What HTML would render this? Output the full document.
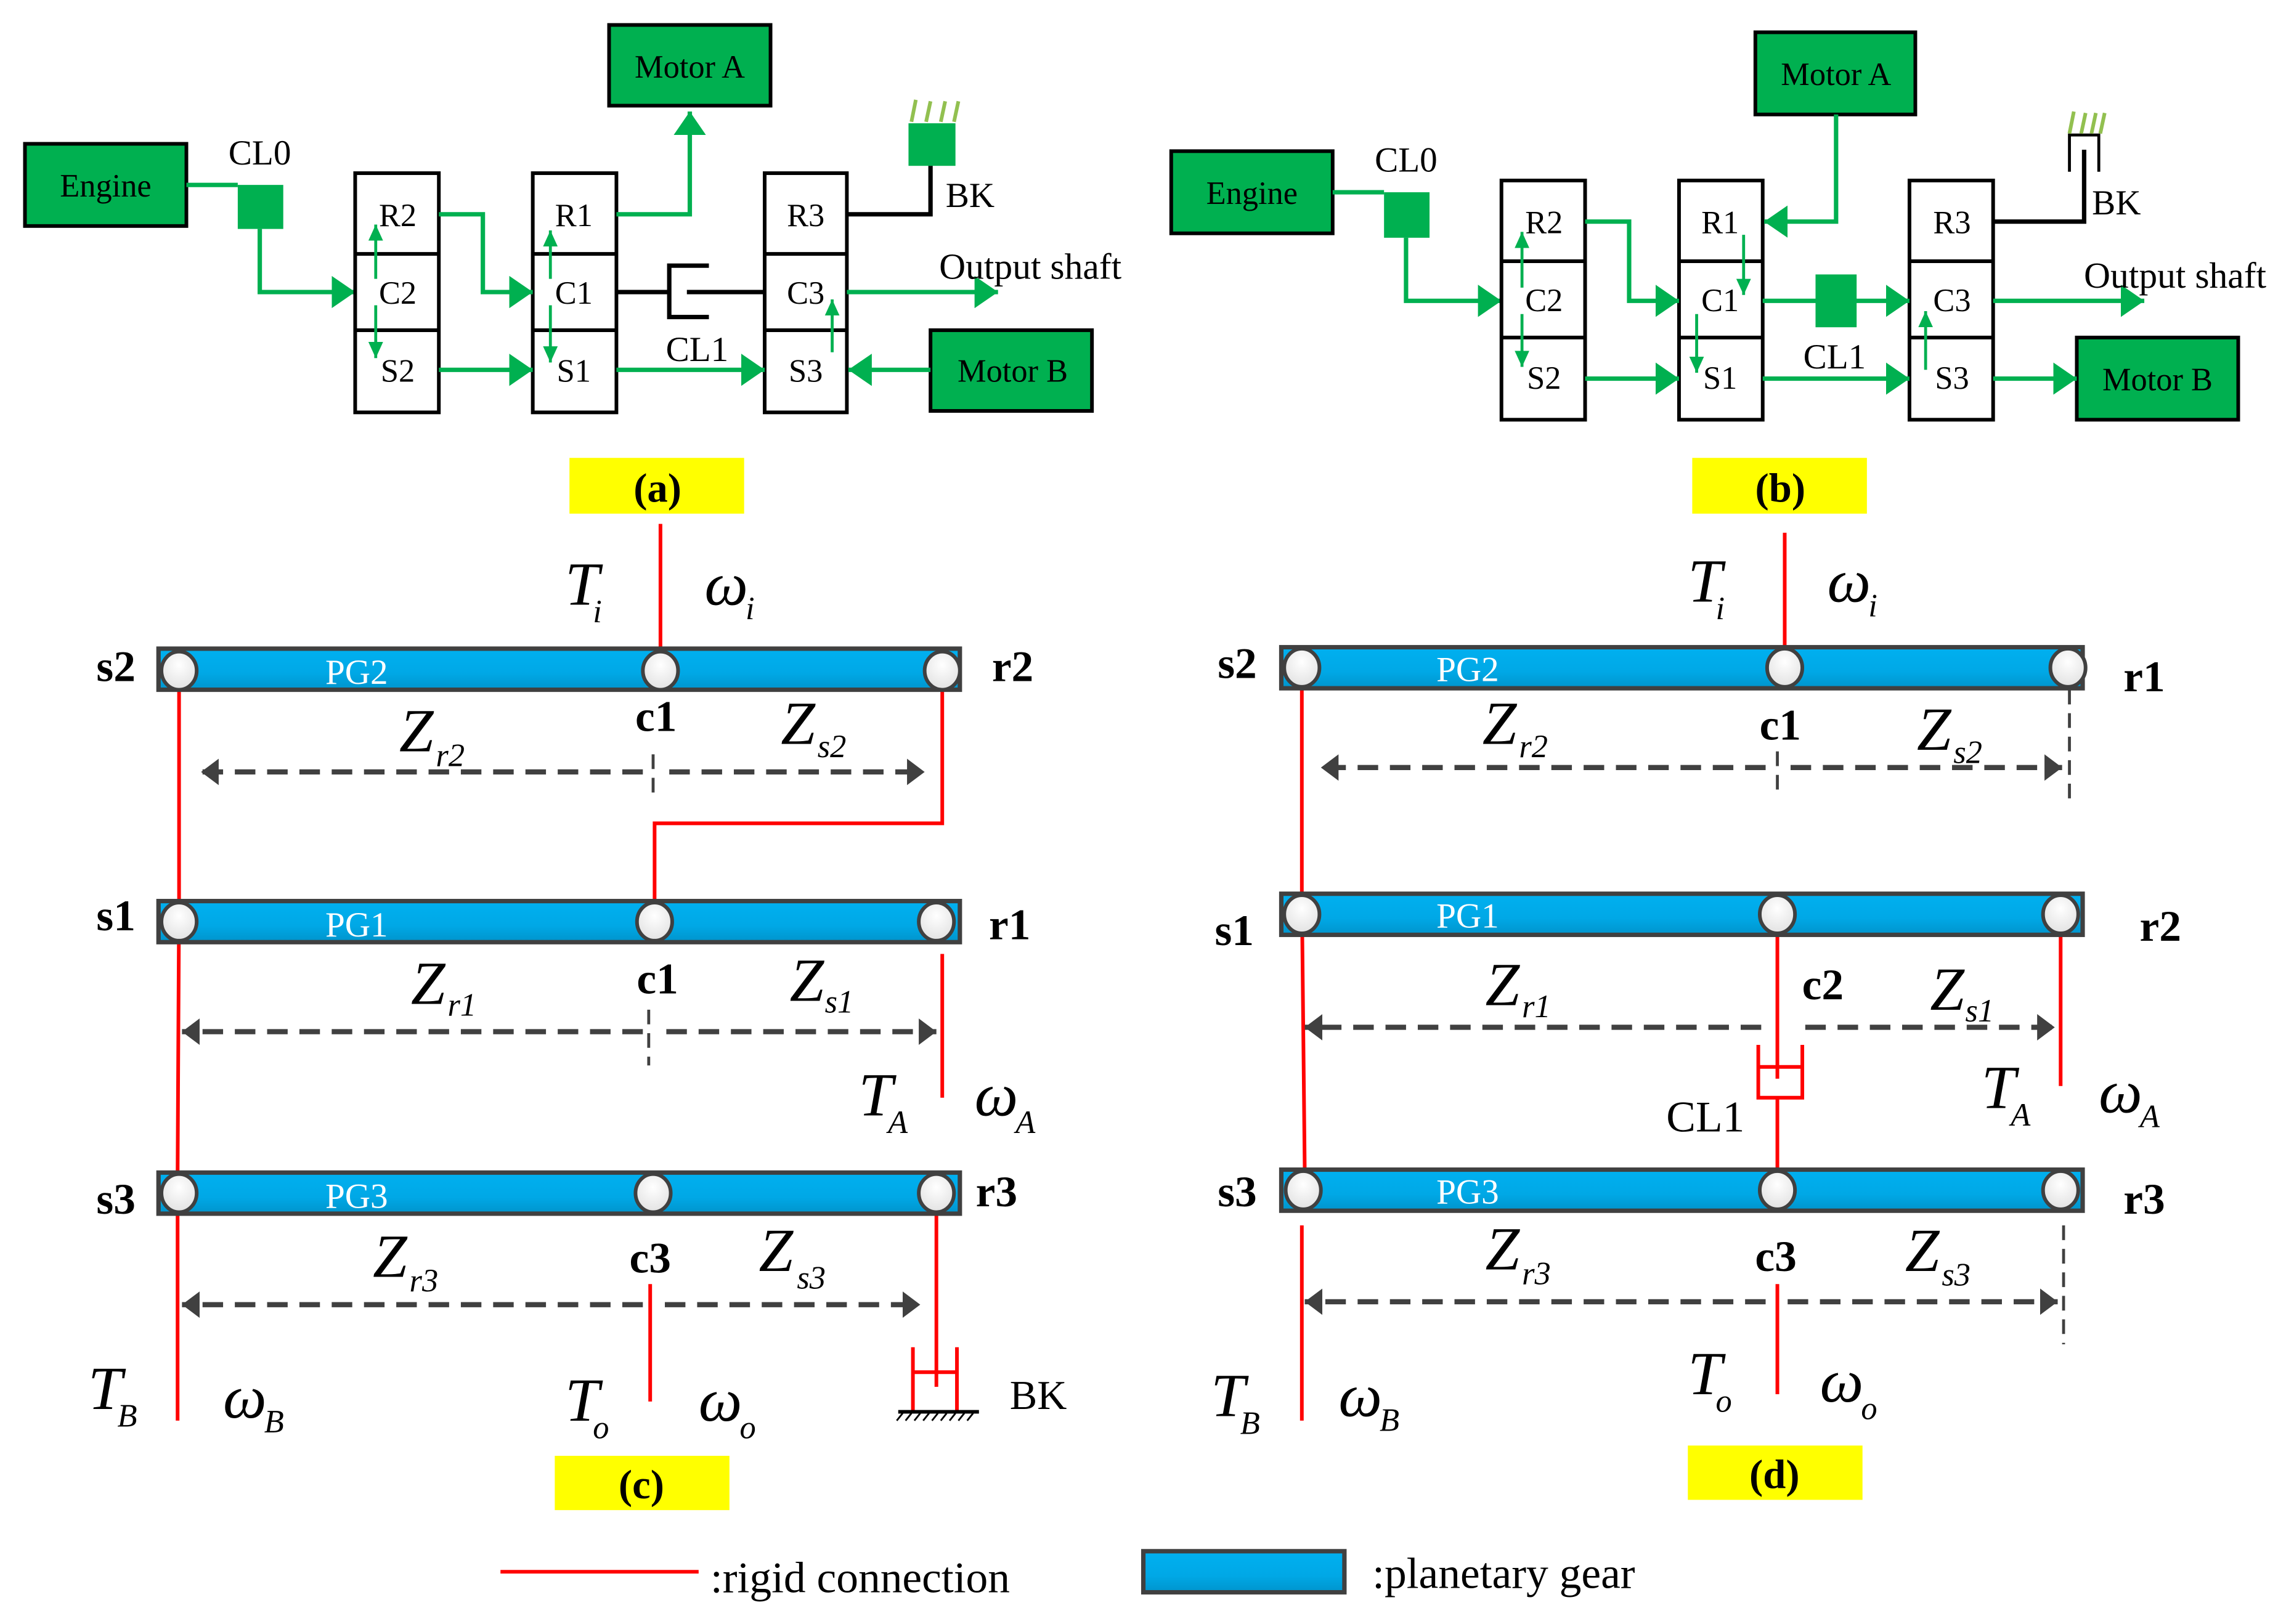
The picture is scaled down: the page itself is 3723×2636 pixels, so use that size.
<!DOCTYPE html>
<html><head><meta charset="utf-8"><style>html,body{margin:0;padding:0;background:#fff}svg{display:block}svg text{font-family:"Liberation Serif","Times New Roman",serif}</style></head>
<body>
<svg xmlns="http://www.w3.org/2000/svg" width="3723" height="2636" viewBox="0 0 1563 1106.6" preserveAspectRatio="none" style="font-family:'Liberation Serif',serif">
<defs>
<marker id="ga" markerUnits="userSpaceOnUse" markerWidth="18" markerHeight="22" refX="16" refY="11" orient="auto"><path d="M0,0 L16,11 L0,22 Z" fill="#00B050"/></marker>
<marker id="gs" markerUnits="userSpaceOnUse" markerWidth="12" markerHeight="12" refX="11" refY="5" orient="auto"><path d="M0,0 L11,5 L0,10 Z" fill="#00B050"/></marker>
<marker id="da" markerUnits="userSpaceOnUse" markerWidth="14" markerHeight="18" refX="12" refY="9" orient="auto"><path d="M0,0 L12,9 L0,18 Z" fill="#404040"/></marker>
<linearGradient id="bl" x1="0" y1="0" x2="0" y2="1"><stop offset="0" stop-color="#00B0F0"/><stop offset="0.6" stop-color="#00A8E6"/><stop offset="1" stop-color="#0094CC"/></linearGradient>
<radialGradient id="wc" cx="0.5" cy="0.35" r="0.7"><stop offset="0" stop-color="#fff"/><stop offset="1" stop-color="#e0e0e0"/></radialGradient>
</defs>

<!-- ========== (a) ========== -->
<g font-size="22" text-anchor="middle">
<rect x="17" y="98" width="110" height="56" fill="#00B050" stroke="#000" stroke-width="2.5"/>
<text x="72" y="134">Engine</text>
<text x="177" y="112" font-size="24">CL0</text>
<line x1="127" y1="126" x2="162" y2="126" stroke="#00B050" stroke-width="3"/>
<rect x="162" y="126" width="31" height="30" fill="#00B050"/>
<polyline points="177,156 177,199 242,199" fill="none" stroke="#00B050" stroke-width="3" marker-end="url(#ga)"/>
<rect x="415" y="17" width="110" height="55" fill="#00B050" stroke="#000" stroke-width="2.5"/>
<text x="470" y="53">Motor A</text>
<rect x="634" y="225" width="110" height="55" fill="#00B050" stroke="#000" stroke-width="2.5"/>
<text x="690" y="260">Motor B</text>
<g fill="#fff" stroke="#000" stroke-width="2.5">
<rect x="242" y="118" width="57" height="163"/><line x1="242" y1="173" x2="299" y2="173"/><line x1="242" y1="225" x2="299" y2="225"/>
<rect x="363" y="118" width="57" height="163"/><line x1="363" y1="173" x2="420" y2="173"/><line x1="363" y1="225" x2="420" y2="225"/>
<rect x="521" y="118" width="56" height="163"/><line x1="521" y1="173" x2="577" y2="173"/><line x1="521" y1="225" x2="577" y2="225"/>
</g>
<text x="271" y="154">R2</text><text x="271" y="207">C2</text><text x="271" y="260">S2</text>
<text x="391" y="154">R1</text><text x="391" y="207">C1</text><text x="391" y="260">S1</text>
<text x="549" y="154">R3</text><text x="549" y="207">C3</text><text x="549" y="260">S3</text>
<g fill="none" stroke="#00B050" stroke-width="3">
<polyline points="420,146 470,146 470,76" marker-end="url(#ga)"/>
<polyline points="299,146 329,146 329,199 363,199" marker-end="url(#ga)"/>
<line x1="299" y1="252" x2="363" y2="252" marker-end="url(#ga)"/>
<line x1="420" y1="252" x2="521" y2="252" marker-end="url(#ga)"/>
<line x1="577" y1="199" x2="680" y2="199" marker-end="url(#ga)"/>
<line x1="634" y1="252" x2="578" y2="252" marker-end="url(#ga)"/>
</g>
<g fill="none" stroke="#00B050" stroke-width="2">
<line x1="256" y1="190" x2="256" y2="153" marker-end="url(#gs)"/>
<line x1="256" y1="208" x2="256" y2="244" marker-end="url(#gs)"/>
<line x1="375" y1="190" x2="375" y2="157" marker-end="url(#gs)"/>
<line x1="375" y1="208" x2="375" y2="247" marker-end="url(#gs)"/>
<line x1="567" y1="240" x2="567" y2="204" marker-end="url(#gs)"/>
</g>
<g fill="none" stroke="#000" stroke-width="3">
<line x1="420" y1="199" x2="456" y2="199"/>
<polyline points="483,181 456,181 456,216 483,216"/>
<line x1="468" y1="199" x2="521" y2="199"/>
<polyline points="577,146 634,146 634,113"/>
</g>
<text x="475" y="246" font-size="24">CL1</text>
<rect x="619" y="84" width="32" height="29" fill="#00B050"/>
<g stroke="#92C050" stroke-width="2.5"><line x1="621" y1="83" x2="624" y2="68"/><line x1="631" y1="83" x2="634" y2="69"/><line x1="641" y1="83" x2="644" y2="69"/><line x1="650" y1="83" x2="653" y2="69"/></g>
<text x="661" y="141" font-size="24">BK</text>
<text x="702" y="190" font-size="25">Output shaft</text>
<rect x="388" y="312" width="119" height="38" fill="#FFFF00"/>
<text x="448" y="342" font-size="28" font-weight="bold">(a)</text>
</g>

<!-- ========== (b) ========== -->
<g font-size="22" text-anchor="middle">
<rect x="798" y="103" width="110" height="56" fill="#00B050" stroke="#000" stroke-width="2.5"/>
<text x="853" y="139">Engine</text>
<text x="958" y="117" font-size="24">CL0</text>
<line x1="908" y1="131" x2="943" y2="131" stroke="#00B050" stroke-width="3"/>
<rect x="943" y="131" width="31" height="31" fill="#00B050"/>
<polyline points="958,162 958,205 1023,205" fill="none" stroke="#00B050" stroke-width="3" marker-end="url(#ga)"/>
<rect x="1196" y="22" width="109" height="56" fill="#00B050" stroke="#000" stroke-width="2.5"/>
<text x="1251" y="58">Motor A</text>
<rect x="1415" y="230" width="110" height="56" fill="#00B050" stroke="#000" stroke-width="2.5"/>
<text x="1470" y="266">Motor B</text>
<g fill="#fff" stroke="#000" stroke-width="2.5">
<rect x="1023" y="123" width="57" height="163"/><line x1="1023" y1="178" x2="1080" y2="178"/><line x1="1023" y1="230" x2="1080" y2="230"/>
<rect x="1144" y="123" width="57" height="163"/><line x1="1144" y1="178" x2="1201" y2="178"/><line x1="1144" y1="230" x2="1201" y2="230"/>
<rect x="1301" y="123" width="57" height="163"/><line x1="1301" y1="178" x2="1358" y2="178"/><line x1="1301" y1="230" x2="1358" y2="230"/>
</g>
<text x="1052" y="159">R2</text><text x="1052" y="212">C2</text><text x="1052" y="265">S2</text>
<text x="1172" y="159">R1</text><text x="1172" y="212">C1</text><text x="1172" y="265">S1</text>
<text x="1330" y="159">R3</text><text x="1330" y="212">C3</text><text x="1330" y="265">S3</text>
<g fill="none" stroke="#00B050" stroke-width="3">
<polyline points="1251,78 1251,151 1202,151" marker-end="url(#ga)"/>
<polyline points="1080,151 1110,151 1110,205 1144,205" marker-end="url(#ga)"/>
<line x1="1080" y1="258" x2="1144" y2="258" marker-end="url(#ga)"/>
<line x1="1201" y1="258" x2="1301" y2="258" marker-end="url(#ga)"/>
<line x1="1201" y1="205" x2="1301" y2="205" marker-end="url(#ga)"/>
<line x1="1358" y1="205" x2="1461" y2="205" marker-end="url(#ga)"/>
<line x1="1358" y1="258" x2="1415" y2="258" marker-end="url(#ga)"/>
</g>
<rect x="1237" y="187" width="28" height="36" fill="#00B050"/>
<g fill="none" stroke="#00B050" stroke-width="2">
<line x1="1037" y1="196" x2="1037" y2="158" marker-end="url(#gs)"/>
<line x1="1037" y1="214" x2="1037" y2="250" marker-end="url(#gs)"/>
<line x1="1188" y1="160" x2="1188" y2="201" marker-end="url(#gs)"/>
<line x1="1156" y1="214" x2="1156" y2="254" marker-end="url(#gs)"/>
<line x1="1312" y1="252" x2="1312" y2="212" marker-end="url(#gs)"/>
</g>
<g fill="none" stroke="#000" stroke-width="3">
<polyline points="1358,151 1420,151 1420,102"/>
</g>
<g fill="none" stroke="#000" stroke-width="2"><polyline points="1410,117 1410,92 1430,92 1430,117"/></g>
<g stroke="#92C050" stroke-width="2.5"><line x1="1410" y1="91" x2="1413" y2="76"/><line x1="1418" y1="91" x2="1421" y2="77"/><line x1="1425" y1="91" x2="1428" y2="77"/><line x1="1431" y1="91" x2="1434" y2="77"/></g>
<text x="1442" y="146" font-size="24">BK</text>
<text x="1482" y="196" font-size="25">Output shaft</text>
<text x="1250" y="251" font-size="24">CL1</text>
<rect x="1153" y="312" width="119" height="38" fill="#FFFF00"/>
<text x="1213" y="342" font-size="28" font-weight="bold">(b)</text>
</g>

<!-- ========== (c) ========== -->
<g>
<line x1="450" y1="357" x2="450" y2="443" stroke="#f00" stroke-width="2.5"/>
<g fill="none" stroke="#f00" stroke-width="2.5">
<polyline points="122,470 122,615 121,800 121,968"/>
<polyline points="642,470 642,561 446,561 446,615"/>
<line x1="642" y1="650" x2="642" y2="748"/>
<line x1="443" y1="875" x2="443" y2="955"/>
<line x1="638" y1="828" x2="638" y2="945"/>
<polyline points="622,918 622,962"/><polyline points="652,918 652,962"/><line x1="622" y1="935" x2="652" y2="935"/>
</g>
<line x1="612" y1="962" x2="667" y2="962" stroke="#000" stroke-width="2.5"/>
<g stroke="#000" stroke-width="1.2">
<line x1="615" y1="963" x2="611" y2="968"/><line x1="621" y1="963" x2="617" y2="968"/><line x1="627" y1="963" x2="623" y2="968"/><line x1="633" y1="963" x2="629" y2="968"/><line x1="639" y1="963" x2="635" y2="968"/><line x1="645" y1="963" x2="641" y2="968"/><line x1="651" y1="963" x2="647" y2="968"/><line x1="657" y1="963" x2="653" y2="968"/><line x1="663" y1="963" x2="659" y2="968"/>
</g>
<g stroke="#404040" stroke-width="3">
<rect x="108" y="442" width="546" height="28" fill="url(#bl)"/>
<rect x="108" y="614" width="546" height="28" fill="url(#bl)"/>
<rect x="108" y="799" width="546" height="28" fill="url(#bl)"/>
</g>
<g fill="url(#wc)" stroke="#404040" stroke-width="2.5">
<ellipse cx="122" cy="457" rx="12" ry="13"/><ellipse cx="450" cy="457" rx="12" ry="13"/><ellipse cx="642" cy="457" rx="12" ry="13"/>
<ellipse cx="122" cy="628" rx="12" ry="13"/><ellipse cx="446" cy="628" rx="12" ry="13"/><ellipse cx="638" cy="628" rx="12" ry="13"/>
<ellipse cx="122" cy="813" rx="12" ry="13"/><ellipse cx="445" cy="813" rx="12" ry="13"/><ellipse cx="638" cy="813" rx="12" ry="13"/>
</g>
<g fill="#fff" font-size="24" text-anchor="middle"><text x="243" y="466">PG2</text><text x="243" y="638">PG1</text><text x="243" y="823">PG3</text></g>
<g stroke="#404040" stroke-width="3.5" stroke-dasharray="14,8" fill="none">
<line x1="438" y1="526" x2="137" y2="526" marker-end="url(#da)"/>
<line x1="456" y1="526" x2="630" y2="526" marker-end="url(#da)"/>
<line x1="438" y1="703" x2="124" y2="703" marker-end="url(#da)"/>
<line x1="454" y1="703" x2="638" y2="703" marker-end="url(#da)"/>
<line x1="438" y1="889" x2="124" y2="889" marker-end="url(#da)"/>
<line x1="453" y1="889" x2="627" y2="889" marker-end="url(#da)"/>
</g>
<g stroke="#404040" stroke-width="2" stroke-dasharray="10,6"><line x1="445" y1="514" x2="445" y2="542"/><line x1="442" y1="688" x2="442" y2="726"/></g>
<g font-size="30" font-weight="bold" text-anchor="middle">
<text x="79" y="464">s2</text><text x="690" y="464">r2</text><text x="447" y="498">c1</text>
<text x="79" y="634">s1</text><text x="688" y="640">r1</text><text x="448" y="677">c1</text>
<text x="79" y="827">s3</text><text x="679" y="822">r3</text><text x="443" y="867">c3</text>
</g>
<text x="688" y="960" font-size="28">BK</text>
<g font-style="italic" font-size="42">
<text x="385" y="412">T</text><text x="404" y="424" font-size="22">i</text>
<text x="480" y="412">ω</text><text x="508" y="422" font-size="22">i</text>
<text x="272" y="512">Z</text><text x="297" y="522" font-size="22">r2</text>
<text x="532" y="507">Z</text><text x="557" y="516" font-size="22">s2</text>
<text x="280" y="684">Z</text><text x="305" y="692" font-size="22">r1</text>
<text x="538" y="682">Z</text><text x="562" y="690" font-size="22">s1</text>
<text x="585" y="760">T</text><text x="605" y="772" font-size="22">A</text>
<text x="664" y="760">ω</text><text x="692" y="772" font-size="22">A</text>
<text x="254" y="870">Z</text><text x="279" y="880" font-size="22">r3</text>
<text x="517" y="866">Z</text><text x="543" y="878" font-size="22">s3</text>
<text x="60" y="960">T</text><text x="80" y="972" font-size="22">B</text>
<text x="152" y="966">ω</text><text x="180" y="976" font-size="22">B</text>
<text x="385" y="968">T</text><text x="404" y="980" font-size="22">o</text>
<text x="476" y="968">ω</text><text x="504" y="980" font-size="22">o</text>
</g>
<rect x="378" y="992" width="119" height="37" fill="#FFFF00"/>
<text x="437" y="1021" font-size="28" font-weight="bold" text-anchor="middle">(c)</text>
</g>

<!-- ========== (d) ========== -->
<g>
<g fill="none" stroke="#f00" stroke-width="2.5">
<line x1="1216" y1="363" x2="1216" y2="442"/>
<polyline points="887,468 887,610 889,800"/>
<line x1="887" y1="835" x2="887" y2="968"/>
<line x1="1404" y1="637" x2="1404" y2="740"/>
<line x1="1211" y1="637" x2="1211" y2="735"/>
<polyline points="1198,712 1198,748 1228,748 1228,712"/>
<line x1="1198" y1="727" x2="1228" y2="727"/>
<line x1="1211" y1="748" x2="1211" y2="800"/>
<line x1="1211" y1="875" x2="1211" y2="950"/>
</g>
<g stroke="#404040" stroke-width="3">
<rect x="873" y="441" width="546" height="28" fill="url(#bl)"/>
<rect x="873" y="609" width="546" height="28" fill="url(#bl)"/>
<rect x="873" y="797" width="546" height="28" fill="url(#bl)"/>
</g>
<g fill="url(#wc)" stroke="#404040" stroke-width="2.5">
<ellipse cx="887" cy="455" rx="12" ry="13"/><ellipse cx="1216" cy="455" rx="12" ry="13"/><ellipse cx="1409" cy="455" rx="12" ry="13"/>
<ellipse cx="887" cy="623" rx="12" ry="13"/><ellipse cx="1211" cy="623" rx="12" ry="13"/><ellipse cx="1404" cy="623" rx="12" ry="13"/>
<ellipse cx="888" cy="811" rx="12" ry="13"/><ellipse cx="1211" cy="811" rx="12" ry="13"/><ellipse cx="1404" cy="811" rx="12" ry="13"/>
</g>
<g fill="#fff" font-size="24" text-anchor="middle"><text x="1000" y="464">PG2</text><text x="1000" y="632">PG1</text><text x="1000" y="820">PG3</text></g>
<g stroke="#404040" stroke-width="3.5" stroke-dasharray="14,8" fill="none">
<line x1="1203" y1="523" x2="900" y2="523" marker-end="url(#da)"/>
<line x1="1220" y1="523" x2="1405" y2="523" marker-end="url(#da)"/>
<line x1="1200" y1="700" x2="889" y2="700" marker-end="url(#da)"/>
<line x1="1230" y1="700" x2="1400" y2="700" marker-end="url(#da)"/>
<line x1="1203" y1="887" x2="889" y2="887" marker-end="url(#da)"/>
<line x1="1218" y1="887" x2="1402" y2="887" marker-end="url(#da)"/>
</g>
<g stroke="#404040" stroke-width="2" stroke-dasharray="10,6"><line x1="1410" y1="470" x2="1410" y2="546"/><line x1="1211" y1="512" x2="1211" y2="538"/><line x1="1406" y1="835" x2="1406" y2="916"/></g>
<g font-size="30" font-weight="bold" text-anchor="middle">
<text x="843" y="462">s2</text><text x="1461" y="471">r1</text><text x="1213" y="504">c1</text>
<text x="841" y="644">s1</text><text x="1472" y="641">r2</text><text x="1242" y="681">c2</text>
<text x="843" y="822">s3</text><text x="1461" y="827">r3</text><text x="1210" y="866">c3</text>
</g>
<text x="1162" y="771" font-size="30" text-anchor="middle">CL1</text>
<g font-style="italic" font-size="42">
<text x="1150" y="410">T</text><text x="1169" y="422" font-size="22">i</text>
<text x="1245" y="410">ω</text><text x="1273" y="420" font-size="22">i</text>
<text x="1010" y="507">Z</text><text x="1035" y="516" font-size="22">r2</text>
<text x="1306" y="511">Z</text><text x="1331" y="520" font-size="22">s2</text>
<text x="1012" y="685">Z</text><text x="1037" y="693" font-size="22">r1</text>
<text x="1315" y="688">Z</text><text x="1339" y="696" font-size="22">s1</text>
<text x="1350" y="755">T</text><text x="1370" y="767" font-size="22">A</text>
<text x="1430" y="758">ω</text><text x="1458" y="768" font-size="22">A</text>
<text x="1012" y="865">Z</text><text x="1037" y="875" font-size="22">r3</text>
<text x="1298" y="866">Z</text><text x="1323" y="876" font-size="22">s3</text>
<text x="825" y="965">T</text><text x="845" y="977" font-size="22">B</text>
<text x="912" y="965">ω</text><text x="940" y="975" font-size="22">B</text>
<text x="1150" y="950">T</text><text x="1169" y="962" font-size="22">o</text>
<text x="1240" y="955">ω</text><text x="1268" y="967" font-size="22">o</text>
</g>
<rect x="1150" y="985" width="119" height="37" fill="#FFFF00"/>
<text x="1209" y="1014" font-size="28" font-weight="bold" text-anchor="middle">(d)</text>
</g>

<!-- legend -->
<line x1="341" y1="1071" x2="476" y2="1071" stroke="#f00" stroke-width="2.5"/>
<text x="484" y="1085" font-size="30">:rigid connection</text>
<rect x="779" y="1057" width="137" height="28" fill="url(#bl)" stroke="#404040" stroke-width="3"/>
<text x="935" y="1082" font-size="30">:planetary gear</text>
</svg>
</body></html>
